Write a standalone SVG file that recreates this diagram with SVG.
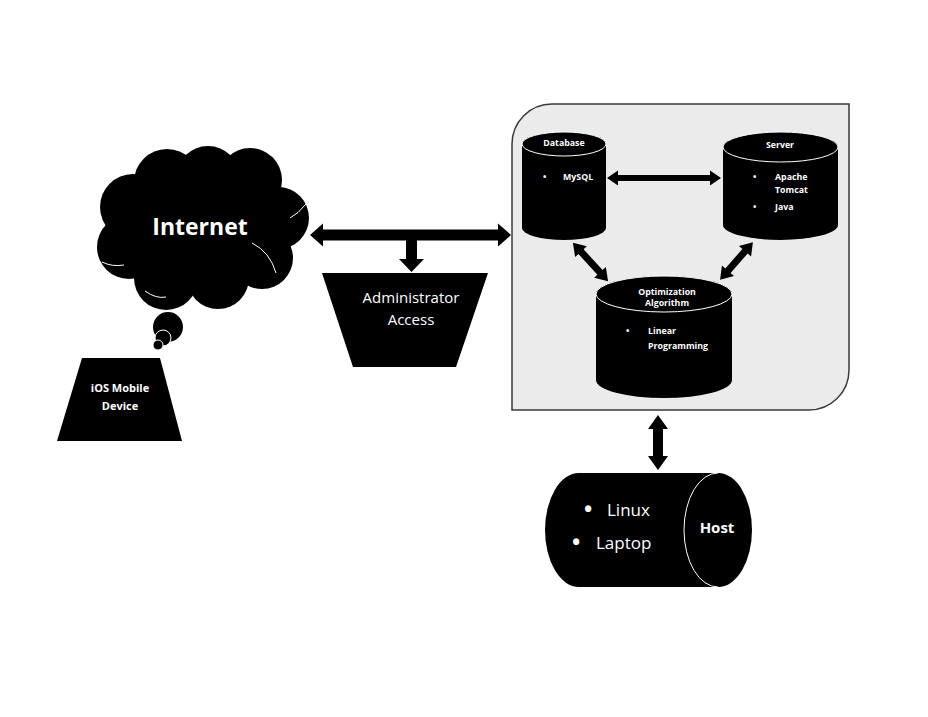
<svg xmlns="http://www.w3.org/2000/svg" width="928" height="717" viewBox="0 0 928 717">
  <style>
    .blk { fill: #000; }
    .lid { fill: #000; stroke: #fff; stroke-width: 1; }
    .wline { fill: none; stroke: #fff; stroke-width: 1; }
    .t { fill: #fff; font-family: "Open Sans", "Liberation Sans", sans-serif; }
    .b { font-weight: bold; }
    .sm { font-size: 8.8px; }
    .mid { text-anchor: middle; }
    .arrow { fill: #000; }
  </style>
  <rect width="928" height="717" fill="#fff"/>

  <!-- system container: rounded top-left and bottom-right corners -->
  <g id="system">
    <path d="M552,104 L849,104 L849,370 A40,40 0 0 1 809,410 L512,410 L512,144 A40,40 0 0 1 552,104 Z" fill="#ebebeb" stroke="#3a3a3a" stroke-width="1.5"/>
  </g>

  <!-- Internet cloud -->
  <g id="internet">
    <g class="blk">
      <circle cx="133" cy="207" r="33"/>
      <circle cx="167" cy="182" r="33"/>
      <circle cx="208" cy="178" r="32"/>
      <circle cx="250" cy="180" r="32"/>
      <circle cx="278" cy="218" r="31"/>
      <circle cx="262" cy="258" r="31"/>
      <circle cx="218" cy="278" r="31"/>
      <circle cx="166" cy="278" r="32"/>
      <circle cx="129" cy="247" r="32"/>
      <circle cx="200" cy="228" r="55"/>
    </g>
    <path class="wline" d="M102,262 Q112,267 124,265"/>
    <path class="wline" d="M252,243 Q270,252 276,273"/>
    <path class="wline" d="M290,218 Q298,214 306,204"/>
    <path class="wline" d="M145,291 Q156,299 166,297"/>
    <circle cx="168" cy="327" r="15" class="blk"/>
    <circle cx="163" cy="338" r="8" class="lid"/>
    <circle cx="158" cy="345" r="5" class="lid"/>
    <text class="t b mid" x="200" y="235" font-size="23">Internet</text>
  </g>

  <!-- iOS device -->
  <g id="ios">
    <polygon class="blk" points="82,358 160,358 182,441 57,441"/>
    <text class="t b mid" x="120" y="392" font-size="11">iOS Mobile</text>
    <text class="t b mid" x="120" y="410" font-size="11">Device</text>
  </g>

  <!-- Administrator access -->
  <g id="admin">
    <polygon class="blk" points="322,273 488,273 456,367 353,367"/>
    <text class="t mid" x="411" y="303" font-size="15">Administrator</text>
    <text class="t mid" x="411" y="325" font-size="15">Access</text>
  </g>

  <!-- Database cylinder -->
  <g id="database">
    <path class="blk" d="M522,144 A42,12 0 0 1 606,144 L606,228 A42,12 0 0 1 522,228 Z"/>
    <ellipse class="lid" cx="564" cy="144" rx="42" ry="12"/>
    <text class="t b sm mid" x="564" y="146">Database</text>
    <text class="t b sm" x="543" y="180">•</text>
    <text class="t b sm" x="563" y="180">MySQL</text>
  </g>

  <!-- Server cylinder -->
  <g id="server">
    <path class="blk" d="M723,147 A57.5,15 0 0 1 838,147 L838,225 A57.5,15 0 0 1 723,225 Z"/>
    <ellipse class="lid" cx="780.5" cy="147" rx="57.5" ry="15"/>
    <text class="t b sm mid" x="780" y="148">Server</text>
    <text class="t b sm" x="753" y="180">•</text>
    <text class="t b sm" x="775" y="180">Apache</text>
    <text class="t b sm" x="775" y="193">Tomcat</text>
    <text class="t b sm" x="753" y="210">•</text>
    <text class="t b sm" x="775" y="210">Java</text>
  </g>

  <!-- Optimization algorithm cylinder -->
  <g id="optimization">
    <path class="blk" d="M596,294 A68,18 0 0 1 732,294 L732,380 A68,18 0 0 1 596,380 Z"/>
    <ellipse class="lid" cx="664" cy="294" rx="68" ry="18"/>
    <text class="t b sm mid" x="667" y="295">Optimization</text>
    <text class="t b sm mid" x="667" y="306">Algorithm</text>
    <text class="t b sm" x="626" y="334">•</text>
    <text class="t b sm" x="648" y="334">Linear</text>
    <text class="t b sm" x="648" y="349">Programming</text>
  </g>

  <!-- Host: horizontal cylinder -->
  <g id="host">
    <path class="blk" d="M579,473 L718,473 A34,57 0 0 1 718,587 L579,587 A34,57 0 0 1 579,473 Z"/>
    <path class="wline" d="M718,473 A34,57 0 0 0 718,587"/>
    <text class="t b" x="584" y="517" font-size="22">•</text>
    <text class="t" x="607" y="516" font-size="17">Linux</text>
    <text class="t b" x="572" y="550" font-size="22">•</text>
    <text class="t" x="596" y="549" font-size="17">Laptop</text>
    <text class="t b mid" x="717" y="533" font-size="15">Host</text>
  </g>

  <!-- connectors: block double arrows -->
  <g id="connectors" class="arrow">
    <!-- internet / system bus with branch down to administrator access -->
    <polygon points="310,235 323,223.5 323,229.5 498,229.5 498,223.5 511,235 498,246.5 498,240.5 417,240.5 417,259 424,259 411.5,272 399,259 406,259 406,240.5 323,240.5 323,246.5"/>
    <!-- database <-> server -->
    <polygon points="607,178 618,170.5 618,175 710,175 710,170.5 721,178 710,185.5 710,181 618,181 618,185.5"/>
    <!-- database <-> optimization -->
    <polygon transform="translate(590.5,262) rotate(47.4)" points="-26,0 -14,-8 -14,-3.5 14,-3.5 14,-8 26,0 14,8 14,3.5 -14,3.5 -14,8"/>
    <!-- server <-> optimization -->
    <polygon transform="translate(736.5,261) rotate(131)" points="-25,0 -13,-8 -13,-3.5 13,-3.5 13,-8 25,0 13,8 13,3.5 -13,3.5 -13,8"/>
    <!-- system <-> host -->
    <polygon transform="translate(658,442.5) rotate(90)" points="-27.5,0 -13.5,-10 -13.5,-5 13.5,-5 13.5,-10 27.5,0 13.5,10 13.5,5 -13.5,5 -13.5,10"/>
  </g>
</svg>
